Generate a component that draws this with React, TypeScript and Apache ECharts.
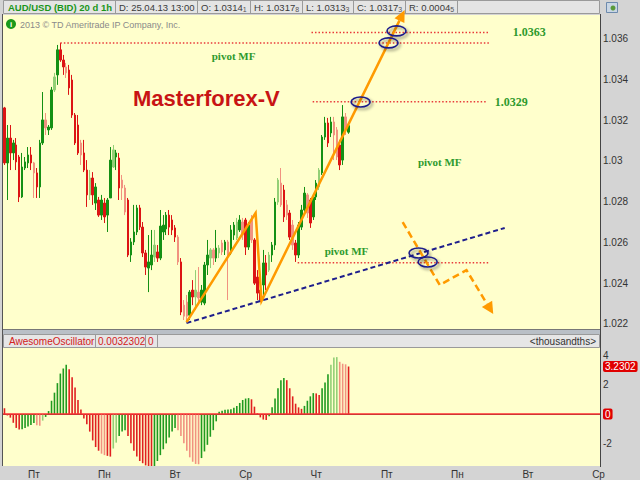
import React, { useEffect, useRef } from "react";
import * as echarts from "echarts";

const dayLabels = ["Пт", "Пн", "Вт", "Ср", "Чт", "Пт", "Пн", "Вт", "Ср"];

const opens = [
  1.0326, 1.0299, 1.03112, 1.03039, 1.03078, 1.03019, 1.02823, 1.02965, 1.0299, 1.03029,
  1.0299, 1.02941, 1.02872, 1.03088, 1.03201, 1.03152, 1.03162, 1.03348, 1.03422, 1.03545,
  1.03495, 1.03461, 1.03446, 1.03397, 1.03225, 1.03176, 1.03088, 1.03039, 1.02955, 1.02833,
  1.02916, 1.02793, 1.02808, 1.02734, 1.02793, 1.02734, 1.02818, 1.0297, 1.03019, 1.03014,
  1.02906, 1.02867, 1.02808, 1.02538, 1.02602, 1.02651, 1.02769, 1.02675, 1.02548, 1.02474,
  1.02489, 1.02528, 1.02553, 1.02523, 1.02651, 1.02666, 1.02734, 1.0271, 1.02671, 1.02626,
  1.02504, 1.02292, 1.02307, 1.02243, 1.02366, 1.02332, 1.02356, 1.02307, 1.02302, 1.02489,
  1.02523, 1.02563, 1.02523, 1.02548, 1.02597, 1.02563, 1.02602, 1.02548, 1.02636, 1.02621,
  1.02661, 1.027, 1.0271, 1.02577, 1.0271, 1.02612, 1.0243, 1.02366, 1.02391, 1.02499,
  1.02464, 1.02538, 1.02587, 1.02798, 1.02891, 1.02857, 1.02784, 1.02744, 1.02685, 1.02597,
  1.02538, 1.02675, 1.02759, 1.02833, 1.02808, 1.02725, 1.02823, 1.02872, 1.02941, 1.03117,
  1.03186, 1.03137, 1.03191, 1.03152, 1.03078, 1.03004, 1.03216, 1.03141,
];
const closes = [
  1.0299, 1.03112, 1.03039, 1.03088, 1.02995, 1.02823, 1.0297, 1.02995, 1.03029, 1.0299,
  1.02941, 1.02872, 1.03088, 1.03201, 1.03162, 1.03166, 1.03348, 1.03412, 1.03545, 1.03495,
  1.03461, 1.03432, 1.03358, 1.03225, 1.03088, 1.03039, 1.03029, 1.02955, 1.02833, 1.02916,
  1.02833, 1.02872, 1.02734, 1.02808, 1.02725, 1.02808, 1.03004, 1.03054, 1.03039, 1.02867,
  1.02867, 1.02749, 1.02538, 1.02602, 1.02651, 1.02769, 1.02675, 1.02548, 1.02479, 1.02504,
  1.02538, 1.02587, 1.02523, 1.0268, 1.02685, 1.02734, 1.02675, 1.02661, 1.02626, 1.02504,
  1.02258, 1.02238, 1.02238, 1.02356, 1.02332, 1.02366, 1.02327, 1.02366, 1.02489, 1.02538,
  1.02563, 1.02523, 1.02572, 1.02572, 1.02553, 1.02602, 1.02538, 1.02661, 1.02685, 1.027,
  1.0271, 1.02636, 1.02577, 1.02685, 1.02612, 1.024, 1.02351, 1.02317, 1.02499, 1.0244,
  1.02538, 1.02587, 1.02798, 1.02906, 1.02784, 1.02725, 1.02734, 1.02626, 1.02587, 1.02538,
  1.02685, 1.02759, 1.02842, 1.02744, 1.02695, 1.02823, 1.02891, 1.02955, 1.03117, 1.03186,
  1.03088, 1.03191, 1.03127, 1.03019, 1.0298, 1.03216, 1.03152, 1.03173,
];
const lows = [
  1.0298, 1.02808, 1.02955, 1.03004, 1.02955, 1.02798, 1.02818, 1.02955, 1.02965, 1.02955,
  1.02818, 1.02818, 1.02818, 1.03078, 1.03127, 1.03127, 1.03152, 1.03338, 1.03373, 1.03486,
  1.03422, 1.03407, 1.03324, 1.03211, 1.03078, 1.03029, 1.0298, 1.02945, 1.02774, 1.02808,
  1.02784, 1.02759, 1.02725, 1.0271, 1.02695, 1.02651, 1.02818, 1.02965, 1.02955, 1.02808,
  1.02808, 1.02734, 1.02528, 1.02504, 1.02587, 1.02636, 1.02661, 1.02528, 1.0244, 1.02356,
  1.02464, 1.02504, 1.02504, 1.02513, 1.02612, 1.02636, 1.02636, 1.02636, 1.02602, 1.02489,
  1.02243, 1.02219, 1.02209, 1.02219, 1.02292, 1.02268, 1.02292, 1.02292, 1.02292, 1.0244,
  1.02474, 1.02489, 1.02504, 1.02523, 1.02538, 1.02538, 1.02317, 1.02538, 1.02612, 1.02612,
  1.02651, 1.02612, 1.02538, 1.02563, 1.02597, 1.02391, 1.02317, 1.02307, 1.02317, 1.02366,
  1.02455, 1.02504, 1.02563, 1.02784, 1.02774, 1.027, 1.0271, 1.02612, 1.02563, 1.02504,
  1.02523, 1.02661, 1.02749, 1.0272, 1.02671, 1.0271, 1.02808, 1.02857, 1.02931, 1.03103,
  1.03068, 1.03117, 1.03004, 1.03004, 1.02955, 1.0298, 1.03127, 1.03133,
];
const highs = [
  1.03265, 1.03176, 1.03176, 1.03103, 1.03112, 1.03029, 1.03039, 1.03019, 1.03068, 1.03068,
  1.02995, 1.02965, 1.03103, 1.03338, 1.03235, 1.03176, 1.03363, 1.03432, 1.03569, 1.03579,
  1.0352, 1.03481, 1.03471, 1.03422, 1.03235, 1.03225, 1.03103, 1.03103, 1.03004, 1.02955,
  1.02945, 1.02891, 1.02823, 1.02833, 1.02818, 1.02818, 1.03068, 1.03078, 1.03054, 1.03039,
  1.02931, 1.02882, 1.02818, 1.02621, 1.02784, 1.02784, 1.02784, 1.027, 1.02563, 1.02636,
  1.02661, 1.02661, 1.02587, 1.02759, 1.02734, 1.02749, 1.02759, 1.02734, 1.02685, 1.02636,
  1.02523, 1.02317, 1.02342, 1.02366, 1.02415, 1.02464, 1.02479, 1.02391, 1.02504, 1.02612,
  1.02572, 1.02572, 1.02661, 1.02587, 1.02612, 1.02612, 1.02612, 1.02685, 1.027, 1.0272,
  1.02734, 1.0272, 1.0272, 1.027, 1.02734, 1.02621, 1.02464, 1.02391, 1.02563, 1.02538,
  1.02553, 1.02602, 1.02818, 1.02916, 1.02965, 1.02882, 1.02808, 1.02759, 1.0271, 1.02612,
  1.027, 1.02784, 1.02872, 1.02842, 1.02818, 1.02833, 1.02906, 1.02965, 1.03127, 1.03216,
  1.03211, 1.03216, 1.03216, 1.03166, 1.03103, 1.03274, 1.03235, 1.03178,
];
const candleLight = [
  10, 14, 17, 21, 26, 29, 37, 40, 41, 51, 59, 61, 62, 65, 66, 70, 71, 73, 74, 76, 79, 81, 84,
  90, 93, 94, 96, 98, 103, 107, 112, 113, 116,
];

const aoValues = [
  0.39, -0.1, -0.25, -0.6, -0.95, -1.06, -1.04, -0.95, -0.86, -0.75,
  -0.62, -0.76, -0.8, -0.45, -0.2, 0.2, 0.9, 1.45, 2.1, 2.75,
  3.1, 3.35, 3.05, 2.5, 1.8, 0.95, 0.3, -0.3, -0.7, -1.2,
  -1.8, -2.25, -2.5, -2.7, -2.8, -2.85, -2.9, -2.35, -1.95, -1.5,
  -1.2, -1.1, -1.5, -2.0, -2.5, -2.9, -3.2, -3.35, -3.5, -3.55,
  -3.65, -3.6, -3.2, -2.8, -2.4, -2.0, -1.6, -1.2, -0.95, -1.1,
  -1.5, -2.0, -2.5, -2.95, -3.25, -3.4, -3.42, -3.0, -2.55, -2.1,
  -1.55, -1.1, -0.5, 0.15, 0.22, 0.28, 0.3, 0.33, 0.42, 0.55,
  0.75, 0.95, 1.05, 1.08, 1.0, 0.5, 0.05, -0.23, -0.38, -0.41,
  -0.15, 0.45, 1.05, 1.75, 2.3, 2.45, 2.3, 1.75, 1.2, 0.7,
  0.45, 0.35, 0.55, 0.9, 1.2, 1.42, 1.4, 1.3, 1.75, 2.15,
  2.7, 3.35, 3.85, 3.87, 3.55, 3.42, 3.38, 3.2302,
];
const aoLight = [11, 12, 13, 33, 34, 37, 38, 59, 60, 61, 62, 63, 64, 65, 66, 111, 112, 113, 114, 115, 116];
const aoLast = 3.2302;

const headerCells = [
  ["D: 25.04.13 13:00", ""],
  ["O: 1.0314", "1"],
  ["H: 1.0317", "8"],
  ["L: 1.0313", "3"],
  ["C: 1.0317", "3"],
  ["R: 0.0004", "5"],
];

// annotation anchors in data units: [bar index, price]
const pivotLevels = [1.0363, 1.03579, 1.0329, 1.025];
const pivotFrom = [104.4, 19, 104.8, 99.7];
const pivotTo = [165, 165, 164, 165];
const zigzag = [[61.9, 1.02209], [85.4, 1.02744], [87.4, 1.02312], [136.1, 1.03741]];
const trendLine = [[61.9, 1.02204], [170.1, 1.02671]];
const projection = [[135.4, 1.027], [148, 1.02391], [157.1, 1.02464], [166.2, 1.02248]];
const circles = [[133.3, 1.03638], [130.6, 1.03579], [121.1, 1.03289], [140.8, 1.02548], [143.9, 1.02504]];
const pivotTexts = [[77.9, 1.03515], [148, 1.02995], [116.3, 1.02558]];
const levelTexts = [["1.0363", 172.8, 1.03633], ["1.0329", 166.7, 1.03289]];

export default function App() {
  const ref = useRef<HTMLDivElement>(null);
  useEffect(() => {
    document.body.style.margin = "0";
    const chart = echarts.init(ref.current!, null, { renderer: "svg" });
    const N = 203;
    const cats = Array.from({ length: N }, (_, i) => String(i));
    const FONT = "Liberation Sans, Arial, sans-serif";
    const SERIF = "Liberation Serif, Times New Roman, serif";
    const G = "#149014", LG = "#93cf76", R = "#dc1414", LR = "#f19280";

    const candleData = opens.map((o, i) => {
      const up = closes[i] >= o;
      const light = candleLight.indexOf(i) >= 0;
      const c = up ? (light ? LG : G) : light ? LR : R;
      return { value: [o, closes[i], lows[i], highs[i]], itemStyle: { color: c, color0: c, borderColor: c, borderColor0: c } };
    });
    const aoData = aoValues.map((v, i) => {
      const up = i > 0 && v > aoValues[i - 1];
      const light = aoLight.indexOf(i) >= 0;
      const c = up ? (light ? LG : "#1f9a1f") : light ? LR : "#e02020";
      return { value: v, itemStyle: { color: c } };
    });

    chart.setOption({
      animation: false,
      backgroundColor: "#d4d4d4",
      grid: [
        { left: 3, top: 15, width: 597, height: 315, show: true, backgroundColor: "#ffffcc", borderWidth: 0 },
        { left: 3, top: 348, width: 597, height: 118, show: true, backgroundColor: "#ffffcc", borderWidth: 0 },
      ],
      xAxis: [
        { type: "category", gridIndex: 0, data: cats, show: false },
        {
          type: "category",
          gridIndex: 1,
          data: cats,
          axisLine: { lineStyle: { color: "#444" } },
          axisTick: { show: false },
          axisLabel: {
            interval: (idx: number) => idx >= 10 && (idx - 10) % 24 === 0,
            formatter: (_v: string, idx: number) => dayLabels[(idx - 10) / 24] ?? "",
            color: "#333",
            fontSize: 10,
            fontFamily: FONT,
            margin: 3,
          },
        },
        { type: "value", gridIndex: 0, min: -0.5, max: N - 0.5, show: false },
      ],
      yAxis: [
        {
          type: "value",
          gridIndex: 0,
          position: "right",
          min: 1.0217,
          max: 1.03716,
          splitNumber: 8,
          splitLine: { show: false },
          axisLine: { show: false },
          axisTick: { show: false },
          axisLabel: {
            showMinLabel: false,
            showMaxLabel: false,
            margin: 3,
            color: "#333",
            fontSize: 10,
            fontFamily: FONT,
            formatter: (v: number) => String(parseFloat(v.toFixed(4))),
          },
        },
        {
          type: "value",
          gridIndex: 1,
          position: "right",
          min: -3.54,
          max: 4.49,
          splitNumber: 4,
          splitLine: { show: false },
          axisLine: { show: false },
          axisTick: { show: false },
          axisLabel: {
            showMinLabel: false,
            showMaxLabel: false,
            margin: 3,
            color: "#333",
            fontSize: 10,
            fontFamily: FONT,
            formatter: (v: number) => (v === 0 ? "{z|0}" : String(v)),
            rich: { z: { backgroundColor: "#e00000", color: "#fff", padding: [1, 2, 0, 2], borderRadius: 2, fontSize: 10, fontFamily: FONT } },
          },
        },
      ],
      series: [
        { type: "candlestick", xAxisIndex: 0, yAxisIndex: 0, data: candleData, barWidth: 2, itemStyle: { borderWidth: 1 } },
        {
          type: "bar",
          xAxisIndex: 1,
          yAxisIndex: 1,
          data: aoData,
          barWidth: 1.6,
          markLine: {
            silent: true,
            symbol: ["none", "none"],
            label: { show: false },
            lineStyle: { color: "#ff3030", type: "solid", width: 1.5 },
            data: [{ yAxis: 0 }],
          },
        },
      ],
    });

    const P = (x: number, y: number) => chart.convertToPixel({ xAxisIndex: 2, yAxisIndex: 0 }, [x, y]) as number[];
    const arrowHead = (from: number[], to: number[], len: number, half: number) => {
      const dx = to[0] - from[0], dy = to[1] - from[1];
      const d = Math.hypot(dx, dy);
      const ux = dx / d, uy = dy / d;
      const bx = to[0] - ux * len, by = to[1] - uy * len;
      return { base: [bx, by], tri: [[to[0], to[1]], [bx - uy * half, by + ux * half], [bx + uy * half, by - ux * half]] };
    };

    const els: any[] = [];
    // header bar
    els.push({ type: "rect", z: 100, shape: { x: 3.5, y: 0.5, width: 596, height: 13 }, style: { fill: "#e4e4e4", stroke: "#9a9a9a", lineWidth: 1 } });
    [115, 197, 250, 302, 353, 405, 457].forEach((x) =>
      els.push({ type: "line", z: 101, shape: { x1: x + 0.5, y1: 0, x2: x + 0.5, y2: 14 }, style: { stroke: "#9a9a9a", lineWidth: 1 } })
    );
    els.push({ type: "text", z: 102, x: 8, y: 7.5, style: { text: "AUD/USD (BID) 20 d 1h", fill: "#1a961a", font: `bold 9.5px ${FONT}`, verticalAlign: "middle" } });
    const cellX = [119, 201, 254, 306, 357, 409];
    headerCells.forEach((c, k) =>
      els.push({
        type: "text",
        z: 102,
        x: cellX[k],
        y: 7.5,
        style: {
          text: c[1] ? `{a|${c[0]}}{b|${c[1]}}` : `{a|${c[0]}}`,
          verticalAlign: "middle",
          rich: { a: { fill: "#3a3a3a", fontSize: 9.5, fontFamily: FONT }, b: { fill: "#555", fontSize: 7, fontFamily: FONT, padding: [3, 0, 0, 0] } },
        },
      })
    );
    // top right icon
    els.push({ type: "rect", z: 100, shape: { x: 606.5, y: 2.5, width: 11, height: 10 }, style: { fill: "#c9d6e4", stroke: "#6d8aad", lineWidth: 1 } });
    els.push({ type: "circle", z: 101, shape: { cx: 613, cy: 8, r: 2.5 }, style: { fill: "#5a9a3a" } });
    // copyright
    els.push({ type: "circle", z: 100, shape: { cx: 11, cy: 24, r: 5 }, style: { fill: "#1a9a1a" } });
    els.push({ type: "text", z: 101, x: 11, y: 24.5, style: { text: "i", fill: "#fff", font: `bold 8px ${FONT}`, align: "center", verticalAlign: "middle" } });
    els.push({ type: "text", z: 100, x: 20, y: 25, style: { text: "2013 © TD Ameritrade IP Company, Inc.", fill: "#8a8a8a", font: `9px ${FONT}`, verticalAlign: "middle" } });
    // panel frames
    els.push({ type: "line", z: 100, shape: { x1: 2.5, y1: 14, x2: 2.5, y2: 466 }, style: { stroke: "#555", lineWidth: 1 } });
    els.push({ type: "line", z: 100, shape: { x1: 600.5, y1: 14, x2: 600.5, y2: 467 }, style: { stroke: "#444", lineWidth: 1 } });
    els.push({ type: "rect", z: 100, shape: { x: 3, y: 329, width: 597, height: 5 }, style: { fill: "#b9bfc6" } });
    els.push({ type: "line", z: 101, shape: { x1: 3, y1: 329.5, x2: 600, y2: 329.5 }, style: { stroke: "#777", lineWidth: 1 } });
    // oscillator header
    els.push({ type: "rect", z: 100, shape: { x: 3.5, y: 334.5, width: 596, height: 13 }, style: { fill: "#e6e6e6", stroke: "#9a9a9a", lineWidth: 1 } });
    [95, 145, 157].forEach((x) =>
      els.push({ type: "line", z: 101, shape: { x1: x + 0.5, y1: 334, x2: x + 0.5, y2: 348 }, style: { stroke: "#9a9a9a", lineWidth: 1 } })
    );
    els.push({ type: "text", z: 102, x: 9, y: 341.5, style: { text: "AwesomeOscillator", fill: "#d42020", font: `10px ${FONT}`, verticalAlign: "middle" } });
    els.push({ type: "text", z: 102, x: 98, y: 341.5, style: { text: "0.0032302", fill: "#d42020", font: `10px ${FONT}`, verticalAlign: "middle" } });
    els.push({ type: "text", z: 102, x: 148, y: 341.5, style: { text: "0", fill: "#d42020", font: `10px ${FONT}`, verticalAlign: "middle" } });
    els.push({ type: "text", z: 102, x: 596, y: 341.5, style: { text: "<thousandths>", fill: "#333", font: `10px ${FONT}`, align: "right", verticalAlign: "middle" } });
    // AO last value box
    const aoY = (chart.convertToPixel({ xAxisIndex: 1, yAxisIndex: 1 }, [0, aoLast]) as number[])[1];
    els.push({
      type: "text",
      z: 102,
      x: 603,
      y: aoY,
      style: { text: aoLast.toFixed(4), fill: "#fff", backgroundColor: "#e00000", padding: [1, 2, 0, 2], borderRadius: 2, font: `10px ${FONT}`, verticalAlign: "middle" },
    });
    // title
    els.push({ type: "text", z: 100, x: 133, y: 98, style: { text: "Masterforex-V", fill: "#c81414", font: `bold 22px ${FONT}`, verticalAlign: "middle" } });

    // pivot lines
    pivotLevels.forEach((lv, k) => {
      const a = P(pivotFrom[k], lv), b = P(pivotTo[k], lv);
      els.push({ type: "line", z: 105, shape: { x1: a[0], y1: a[1], x2: b[0], y2: b[1] }, style: { stroke: "#e83a3a", lineWidth: 1.5, lineDash: [1.5, 2] } });
    });
    pivotTexts.forEach((t) => {
      const p = P(t[0], t[1]);
      els.push({ type: "text", z: 106, x: p[0], y: p[1], style: { text: "pivot MF", fill: "#2e9a2e", font: `bold 11px ${SERIF}`, align: "center", verticalAlign: "middle" } });
    });
    levelTexts.forEach((t) => {
      const p = P(t[1] as number, t[2] as number);
      els.push({ type: "text", z: 106, x: p[0], y: p[1], style: { text: t[0] as string, fill: "#2e9a2e", font: `bold 12px ${SERIF}`, verticalAlign: "middle" } });
    });
    // trend line
    const t0 = P(trendLine[0][0], trendLine[0][1]), t1 = P(trendLine[1][0], trendLine[1][1]);
    els.push({ type: "line", z: 107, shape: { x1: t0[0], y1: t0[1], x2: t1[0], y2: t1[1] }, style: { stroke: "#1e1e8c", lineWidth: 2, lineDash: [5, 3] } });
    // orange zigzag with arrow
    const zz = zigzag.map((p) => P(p[0], p[1]));
    const ah = arrowHead(zz[2], zz[3], 12, 5.5);
    els.push({ type: "polyline", z: 108, shape: { points: [zz[0], zz[1], zz[2], ah.base] }, style: { stroke: "#ff9a00", lineWidth: 2.5, fill: null } });
    els.push({ type: "polygon", z: 108, shape: { points: ah.tri }, style: { fill: "#ff9a00" } });
    // projection dashed
    const pj = projection.map((p) => P(p[0], p[1]));
    const ah2 = arrowHead(pj[2], pj[3], 12, 6);
    els.push({ type: "polyline", z: 108, shape: { points: [pj[0], pj[1], pj[2], ah2.base] }, style: { stroke: "#ff9a00", lineWidth: 2.5, lineDash: [7, 4], fill: null } });
    els.push({ type: "polygon", z: 108, shape: { points: ah2.tri }, style: { fill: "#ff9a00" } });
    // ellipses
    circles.forEach((c) => {
      const p = P(c[0], c[1]);
      els.push({
        type: "ellipse",
        z: 110,
        shape: { cx: p[0], cy: p[1], rx: 9.5, ry: 5 },
        style: { fill: "none", stroke: "#1a1a8a", lineWidth: 1.6, shadowBlur: 3, shadowColor: "rgba(0,0,0,0.45)", shadowOffsetX: 2, shadowOffsetY: 2 },
      });
    });

    chart.setOption({ graphic: els });
    return () => chart.dispose();
  }, []);
  return <div ref={ref} style={{ position: "fixed", left: 0, top: 0, width: 640, height: 480 }} />;
}
